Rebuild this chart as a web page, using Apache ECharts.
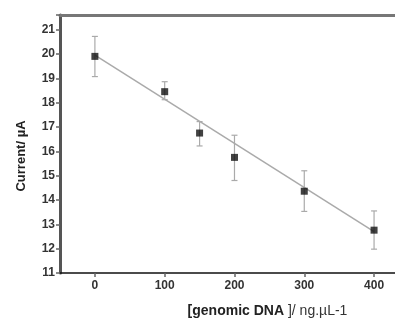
<!DOCTYPE html>
<html>
<head>
<meta charset="utf-8">
<script src="https://cdn.jsdelivr.net/npm/echarts@6/dist/echarts.min.js"></script>
<style>
  html, body { margin: 0; padding: 0; background: #fff; }
  #chart { width: 395px; height: 323px; }
</style>
</head>
<body>
<div id="chart"></div>
<script>
const dnaConc = [0, 100, 150, 200, 300, 400];
const current = [19.9, 18.45, 16.75, 15.75, 14.36, 12.76];
const errLow = [19.07, 18.12, 16.22, 14.8, 13.53, 11.98];
const errHigh = [20.72, 18.86, 17.22, 16.66, 15.2, 13.55];
const fitX = [0, 400];
const fitY = [19.95, 12.7];
const xTicks = [0, 100, 200, 300, 400];

const font = 'Liberation Sans, Arial, sans-serif';
const chart = echarts.init(document.getElementById('chart'));

chart.setOption({
    backgroundColor: '#fff',
    animation: false,
    grid: { left: 60, right: 0, top: 15, bottom: 50 },
    xAxis: [
        {
            type: 'value',
            min: -50,
            max: 430,
            position: 'bottom',
            splitLine: { show: false },
            axisLine: { onZero: false, lineStyle: { color: '#111', width: 1.5 } },
            axisTick: { customValues: xTicks, length: 4, lineStyle: { color: '#666', width: 1.5 } },
            axisLabel: {
                customValues: xTicks,
                color: '#333', fontWeight: 'bold', fontSize: 12, fontFamily: font, margin: 7
            },
            name: '{b|[genomic DNA}{n| ]/ ng.µL-1}',
            nameLocation: 'middle',
            nameGap: 31,
            nameTextStyle: {
                padding: [0, 0, 0, 80],
                rich: {
                    b: { fontWeight: 'bold', fontSize: 14, color: '#222', fontFamily: font },
                    n: { fontSize: 14, color: '#333', fontFamily: font }
                }
            }
        },
        {
            type: 'value',
            min: -50,
            max: 430,
            position: 'top',
            splitLine: { show: false },
            axisLine: { onZero: false, lineStyle: { color: '#777', width: 3 } },
            axisTick: { show: false },
            axisLabel: { show: false }
        }
    ],
    yAxis: {
        type: 'value',
        min: 11,
        max: 21.6,
        interval: 1,
        splitLine: { show: false },
        axisLine: { show: true, onZero: false, lineStyle: { color: '#555', width: 3 } },
        axisTick: { show: true, length: 4, lineStyle: { color: '#666', width: 1.5 } },
        axisLabel: {
            color: '#333', fontWeight: 'bold', fontSize: 12, fontFamily: font, margin: 5,
            formatter: v => (Number.isInteger(v) ? String(v) : '')
        },
        name: 'Current/ µA',
        nameLocation: 'middle',
        nameGap: 32,
        nameTextStyle: {
            fontWeight: 'bold', fontSize: 13, color: '#222', fontFamily: font,
            padding: [0, 24, 0, 0]
        }
    },
    series: [
        {
            type: 'line',
            data: fitX.map((x, i) => [x, fitY[i]]),
            symbol: 'none',
            lineStyle: { color: '#aaa', width: 1.5 },
            z: 1
        },
        {
            type: 'custom',
            data: dnaConc.map((x, i) => [x, errLow[i], errHigh[i]]),
            renderItem(params, api) {
                const lo = api.coord([api.value(0), api.value(1)]);
                const hi = api.coord([api.value(0), api.value(2)]);
                const cap = 3;
                const style = { stroke: '#aaa', lineWidth: 1.2 };
                return {
                    type: 'group',
                    children: [
                        { type: 'line', shape: { x1: lo[0], y1: lo[1], x2: hi[0], y2: hi[1] }, style },
                        { type: 'line', shape: { x1: lo[0] - cap, y1: lo[1], x2: lo[0] + cap, y2: lo[1] }, style },
                        { type: 'line', shape: { x1: hi[0] - cap, y1: hi[1], x2: hi[0] + cap, y2: hi[1] }, style }
                    ]
                };
            },
            z: 2
        },
        {
            type: 'scatter',
            data: dnaConc.map((x, i) => [x, current[i]]),
            symbol: 'rect',
            symbolSize: 7,
            itemStyle: { color: '#111' },
            z: 3
        }
    ]
});
</script>
</body>
</html>
